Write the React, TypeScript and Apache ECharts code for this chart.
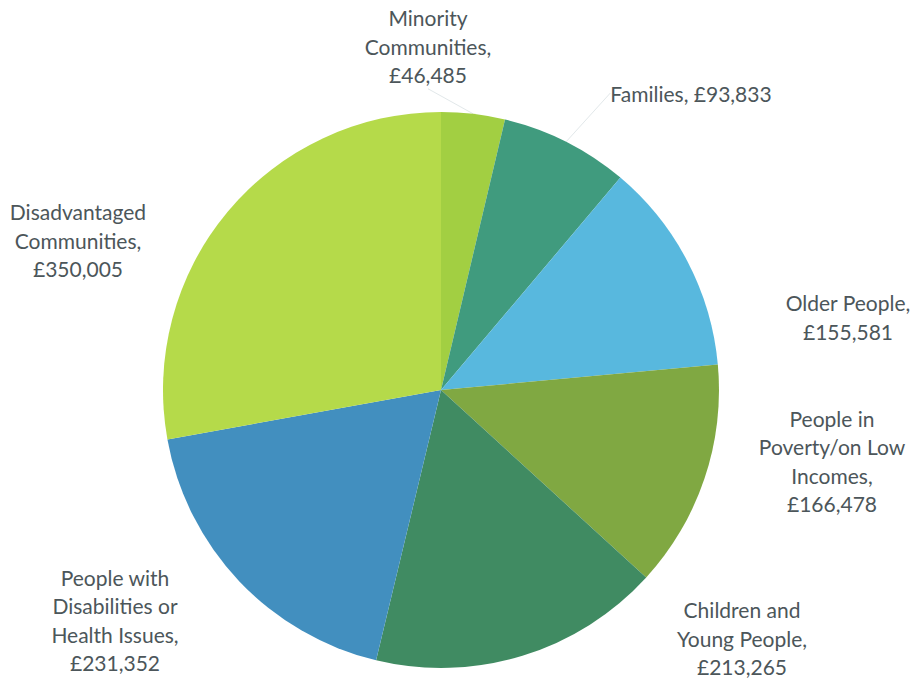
import React, { useEffect, useRef } from "react";
import * as echarts from "echarts";

const categories = [
  "Minority Communities",
  "Families",
  "Older People",
  "People in Poverty/on Low Incomes",
  "Children and Young People",
  "People with Disabilities or Health Issues",
  "Disadvantaged Communities",
];
const values = [46485, 93833, 155581, 166478, 213265, 231352, 350005];
const labelTexts = [
  "Minority\nCommunities,\n£46,485",
  "Families, £93,833",
  "Older People,\n£155,581",
  "People in\nPoverty/on Low\nIncomes,\n£166,478",
  "Children and\nYoung People,\n£213,265",
  "People with\nDisabilities or\nHealth Issues,\n£231,352",
  "Disadvantaged\nCommunities,\n£350,005",
];
const colors = ["#a2cf42", "#409b7e", "#58b8de", "#80a842", "#408b62", "#428fbf", "#b5da4a"];

// label centres (layout)
const labelPos: [number, number][] = [
  [428, 46],
  [691, 93],
  [848, 317],
  [832, 461],
  [742, 638],
  [115, 620],
  [78, 240],
];

export default function App() {
  const ref = useRef<HTMLDivElement>(null);
  useEffect(() => {
    const chart = echarts.init(ref.current!, null, { renderer: "svg" });
    chart.setOption({
      animation: false,
      backgroundColor: "#ffffff",
      series: [
        {
          type: "pie",
          center: [441, 390],
          radius: 278,
          startAngle: 90,
          clockwise: true,
          data: categories.map((c, i) => ({
            name: c,
            value: values[i],
            itemStyle: { color: colors[i] },
            labelLine: { show: i < 2 },
          })),
          label: {
            show: true,
            formatter: (p: any) => labelTexts[p.dataIndex],
            fontFamily: "Lato, 'Open Sans', sans-serif",
            fontSize: 21,
            lineHeight: 28.5,
            color: "#4c565a",
            align: "center",
          },
          labelLine: {
            show: true,
            length: 8,
            length2: 0,
            lineStyle: { color: "#e2e8ea", width: 1 },
          },
          labelLayout: (params: any) => {
            const pos = labelPos[params.dataIndex];
            return { x: pos[0], y: pos[1], align: "center", verticalAlign: "middle" };
          },
          emphasis: { disabled: true },
        },
      ],
    });
    return () => chart.dispose();
  }, []);
  return (
    <div
      ref={ref}
      style={{ position: "fixed", left: 0, top: 0, width: 914, height: 681 }}
    />
  );
}
